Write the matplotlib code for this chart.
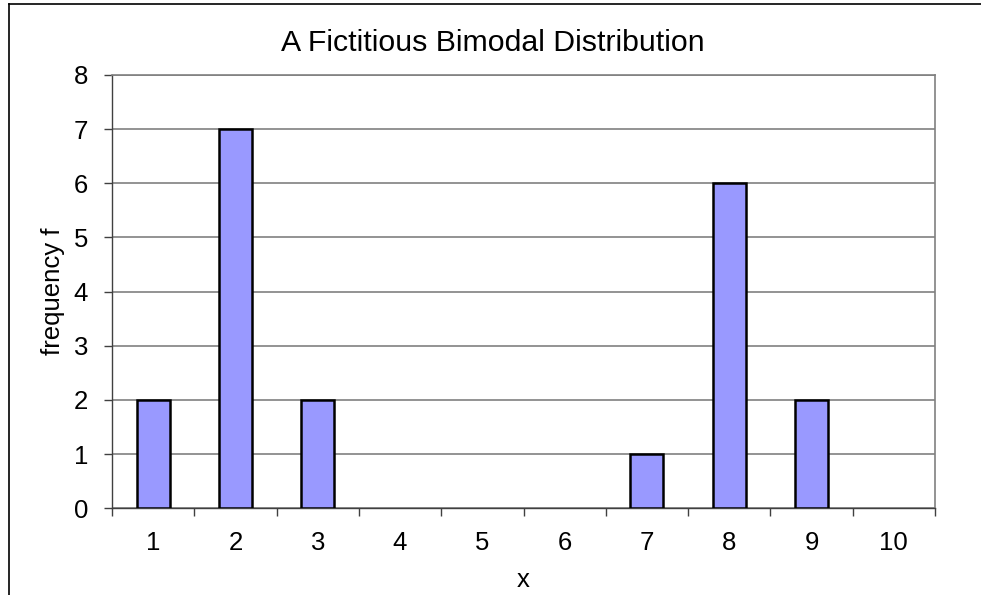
import matplotlib.pyplot as plt
from matplotlib.lines import Line2D

plt.rcParams['font.family'] = ['Liberation Sans', 'DejaVu Sans']

x_values = [1, 2, 3, 4, 5, 6, 7, 8, 9, 10]
frequencies = [2, 7, 2, 0, 0, 0, 1, 6, 2, 0]

fig = plt.figure(figsize=(9.81, 5.95), dpi=100)
ax = fig.add_axes([112 / 981, 1 - 508.3 / 595, (935 - 112) / 981, (508.3 - 75) / 595])

# empty categories get no outline
edge_widths = [1.8 if f > 0 else 0 for f in frequencies]
ax.bar(x_values, frequencies, width=0.4, color='#9999FF', edgecolor='black',
       linewidth=edge_widths, zorder=3)

ax.set_xlim(0.5, 10.5)
ax.set_ylim(0, 8)
ax.set_yticks(range(0, 9))
ax.yaxis.grid(True, color='#808080', linewidth=1.2, zorder=0)

# category boundaries carry the tick marks, labels sit in the middle
ax.set_xticks([i + 0.5 for i in range(0, 11)])
ax.set_xticklabels([])
ax.set_xticks(x_values, minor=True)
ax.set_xticklabels([str(v) for v in x_values], minor=True)
ax.tick_params(axis='x', which='major', length=5.8, width=1, color='#404040', direction='out')
ax.tick_params(axis='x', which='minor', length=0, pad=16, labelsize=18.5)
ax.tick_params(axis='y', length=5.8, width=1, color='#404040', direction='out', pad=11.5, labelsize=18.5)

for side in ['left', 'bottom']:
    ax.spines[side].set_color('#404040')
    ax.spines[side].set_linewidth(1)
for side in ['top', 'right']:
    ax.spines[side].set_color('#808080')
    ax.spines[side].set_linewidth(1.2)

fig.text(493 / 981, 1 - 43 / 595, 'A Fictitious Bimodal Distribution', fontsize=21.8,
         ha='center', va='center')
ax.set_xlabel('x', fontsize=18.5, labelpad=10)
ax.set_ylabel('frequency f', fontsize=18.5, labelpad=6)

# chart frame (only top and left edges are visible in the crop)
fig.add_artist(Line2D([9 / 981, 9 / 981], [0, 1 - 4 / 595], color='black', linewidth=1.2))
fig.add_artist(Line2D([9 / 981, 1], [1 - 4 / 595, 1 - 4 / 595], color='black', linewidth=1.2))

fig.savefig('out.png', dpi=100)
